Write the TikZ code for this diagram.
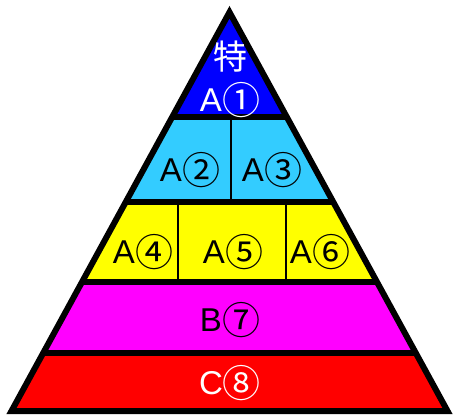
\documentclass[tikz,border=0pt]{standalone}
\usepackage{fontspec}
\setmainfont{Liberation Sans}
\newfontfamily\cjk{Noto Sans CJK JP}
\usepackage{tikz}
\usetikzlibrary{calc}
\definecolor{PyBlue}{RGB}{0,0,255}
\definecolor{PyCyan}{RGB}{51,204,255}
\definecolor{PyYellow}{RGB}{255,255,0}
\definecolor{PyMagenta}{RGB}{255,0,255}
\definecolor{PyRed}{RGB}{255,0,0}
\newcommand{\ringnum}[1]{\raisebox{-2.5pt}{\cjk\fontsize{38}{38}\selectfont #1}}

\begin{document}
\begin{tikzpicture}[x=1pt, y=-1pt,
          edge/.style={line width=6pt, line join=miter},
          sep/.style={line width=6pt},
          divider/.style={line width=1.6pt},
          lbl/.style={font=\fontsize{33}{33}\selectfont, inner sep=0pt}
        ]
        \useasboundingbox (0,0) rectangle (453,415);
        % corners of the pyramid
        \coordinate (apex) at (229.5,12.2);
        \coordinate (bl) at (11.5,411);
        \coordinate (br) at (447.5,411);
        \foreach \n/\t in {1/0.2628, 2/0.4747, 3/0.6765, 4/0.8546} {
          \coordinate (l\n) at ($(apex)!\t!(bl)$);
          \coordinate (r\n) at ($(apex)!\t!(br)$);
        }
        \coordinate (d1) at (231,0);
        \coordinate (d2) at (178,0);
        \coordinate (d3) at (286,0);

        % bands
        \fill[PyBlue]    (apex) -- (r1) -- (l1) -- cycle;
        \fill[PyCyan]    (l1) -- (r1) -- (r2) -- (l2) -- cycle;
        \fill[PyYellow]  (l2) -- (r2) -- (r3) -- (l3) -- cycle;
        \fill[PyMagenta] (l3) -- (r3) -- (r4) -- (l4) -- cycle;
        \fill[PyRed]     (l4) -- (r4) -- (br) -- (bl) -- cycle;

        % dividers
        \draw[divider] (l1 -| d1) -- (l2 -| d1);
        \draw[divider] (l2 -| d2) -- (l3 -| d2);
        \draw[divider] (l2 -| d3) -- (l3 -| d3);

        % separators and outline
        \foreach \n in {1,...,4}
          \draw[sep] (l\n) -- (r\n);
        \draw[edge] (apex) -- (br) -- (bl) -- cycle;

        % labels
        \node[lbl, white] (toku) at (230,57)  {\cjk\fontsize{34}{34}\selectfont 特};
        \node[lbl, white] (a1)   at (230,100) {A\ringnum{①}};
        \node[lbl]        (a2)   at (190,170) {A\ringnum{②}};
        \node[lbl]        (a3)   at (272,170) {A\ringnum{③}};
        \node[lbl]        (a4)   at (143,252) {A\ringnum{④}};
        \node[lbl]        (a5)   at (233,252) {A\ringnum{⑤}};
        \node[lbl]        (a6)   at (320,252) {A\ringnum{⑥}};
        \node[lbl]        (b7)   at (230,320) {B\ringnum{⑦}};
        \node[lbl, white] (c8)   at (230,383) {C\ringnum{⑧}};
      \end{tikzpicture}
\end{document}
